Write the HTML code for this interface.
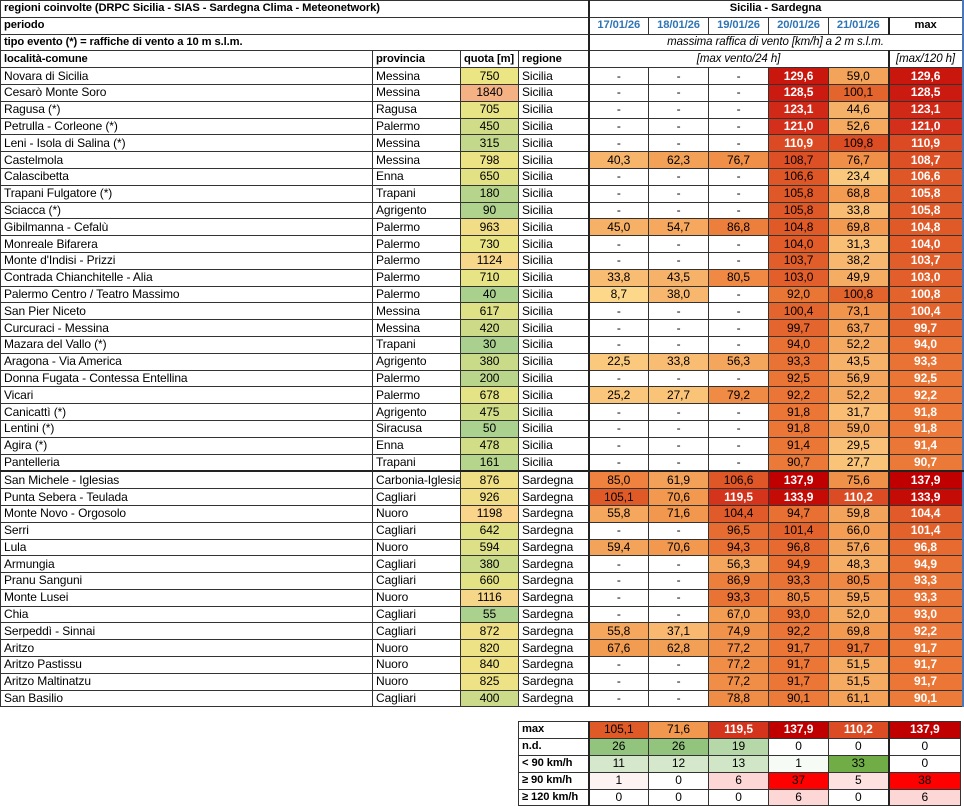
<!DOCTYPE html>
<html><head><meta charset="utf-8">
<style>
body{margin:0;background:#fff;width:964px;height:806px;overflow:hidden;position:relative;font-family:"Liberation Sans",sans-serif;font-size:12px;color:#000}
table{border-collapse:collapse;table-layout:fixed;position:absolute}
td{border:1px solid #333;padding:0 3px;height:15.8px;white-space:nowrap;overflow:hidden;line-height:15px;vertical-align:middle;letter-spacing:-0.1px}
#t{left:0;top:0;width:962px}
#t tr.d td:nth-child(n+5){text-align:center}
#t tr.d td:nth-child(3){text-align:center}
#t tr.d td:nth-child(5),#t .tl{border-left:2px solid #222}
#t tr.d td:nth-child(10),#t .ml{border-left:2px solid #222}
#t tr.d td:nth-child(10){color:#fff;font-weight:bold}
#t td:last-child{border-right:2px solid #4a78b8}
.b{font-weight:bold;font-size:11.2px}.i{font-style:italic;text-align:center;font-size:11.5px}
.dt{color:#2f75b5;font-weight:bold;text-align:center;font-size:11.2px}
tr.sep td{border-bottom:2px solid #222}
#s{left:518px;top:721px;width:442px}
#s td{text-align:center;height:15.9px}
#s td:first-child{text-align:left;font-weight:bold;font-size:11.2px}
#s td:nth-child(2){border-left:2px solid #222}
#s td:nth-child(7){border-left:2px solid #222}
</style></head><body>
<table id="t">
<colgroup><col style="width:372px"><col style="width:88px"><col style="width:58px"><col style="width:70px"><col style="width:60px"><col style="width:60px"><col style="width:60px"><col style="width:60px"><col style="width:60px"><col style="width:74px"></colgroup>
<tr><td colspan="4" class="b">regioni coinvolte (DRPC Sicilia - SIAS - Sardegna Clima - Meteonetwork)</td><td colspan="6" class="b tl" style="text-align:center">Sicilia - Sardegna</td></tr>
<tr><td colspan="4" class="b">periodo</td><td class="dt tl">17/01/26</td><td class="dt">18/01/26</td><td class="dt">19/01/26</td><td class="dt">20/01/26</td><td class="dt">21/01/26</td><td class="b ml" style="text-align:center">max</td></tr>
<tr><td colspan="4" class="b">tipo evento (*) = raffiche di vento a 10 m s.l.m.</td><td colspan="6" class="i tl">massima raffica di vento [km/h] a 2 m s.l.m.</td></tr>
<tr><td class="b">località-comune</td><td class="b">provincia</td><td class="b">quota [m]</td><td class="b">regione</td><td colspan="5" class="i tl">[max vento/24 h]</td><td class="i ml">[max/120 h]</td></tr>
<tr class="d"><td>Novara di Sicilia</td><td>Messina</td><td>750</td><td>Sicilia</td><td>-</td><td>-</td><td>-</td><td>129,6</td><td>59,0</td><td>129,6</td></tr>
<tr class="d"><td>Cesarò Monte Soro</td><td>Messina</td><td>1840</td><td>Sicilia</td><td>-</td><td>-</td><td>-</td><td>128,5</td><td>100,1</td><td>128,5</td></tr>
<tr class="d"><td>Ragusa (*)</td><td>Ragusa</td><td>705</td><td>Sicilia</td><td>-</td><td>-</td><td>-</td><td>123,1</td><td>44,6</td><td>123,1</td></tr>
<tr class="d"><td>Petrulla - Corleone (*)</td><td>Palermo</td><td>450</td><td>Sicilia</td><td>-</td><td>-</td><td>-</td><td>121,0</td><td>52,6</td><td>121,0</td></tr>
<tr class="d"><td>Leni - Isola di Salina (*)</td><td>Messina</td><td>315</td><td>Sicilia</td><td>-</td><td>-</td><td>-</td><td>110,9</td><td>109,8</td><td>110,9</td></tr>
<tr class="d"><td>Castelmola</td><td>Messina</td><td>798</td><td>Sicilia</td><td>40,3</td><td>62,3</td><td>76,7</td><td>108,7</td><td>76,7</td><td>108,7</td></tr>
<tr class="d"><td>Calascibetta</td><td>Enna</td><td>650</td><td>Sicilia</td><td>-</td><td>-</td><td>-</td><td>106,6</td><td>23,4</td><td>106,6</td></tr>
<tr class="d"><td>Trapani Fulgatore (*)</td><td>Trapani</td><td>180</td><td>Sicilia</td><td>-</td><td>-</td><td>-</td><td>105,8</td><td>68,8</td><td>105,8</td></tr>
<tr class="d"><td>Sciacca (*)</td><td>Agrigento</td><td>90</td><td>Sicilia</td><td>-</td><td>-</td><td>-</td><td>105,8</td><td>33,8</td><td>105,8</td></tr>
<tr class="d"><td>Gibilmanna - Cefalù</td><td>Palermo</td><td>963</td><td>Sicilia</td><td>45,0</td><td>54,7</td><td>86,8</td><td>104,8</td><td>69,8</td><td>104,8</td></tr>
<tr class="d"><td>Monreale Bifarera</td><td>Palermo</td><td>730</td><td>Sicilia</td><td>-</td><td>-</td><td>-</td><td>104,0</td><td>31,3</td><td>104,0</td></tr>
<tr class="d"><td>Monte d'Indisi - Prizzi</td><td>Palermo</td><td>1124</td><td>Sicilia</td><td>-</td><td>-</td><td>-</td><td>103,7</td><td>38,2</td><td>103,7</td></tr>
<tr class="d"><td>Contrada Chianchitelle - Alia</td><td>Palermo</td><td>710</td><td>Sicilia</td><td>33,8</td><td>43,5</td><td>80,5</td><td>103,0</td><td>49,9</td><td>103,0</td></tr>
<tr class="d"><td>Palermo Centro / Teatro Massimo</td><td>Palermo</td><td>40</td><td>Sicilia</td><td>8,7</td><td>38,0</td><td>-</td><td>92,0</td><td>100,8</td><td>100,8</td></tr>
<tr class="d"><td>San Pier Niceto</td><td>Messina</td><td>617</td><td>Sicilia</td><td>-</td><td>-</td><td>-</td><td>100,4</td><td>73,1</td><td>100,4</td></tr>
<tr class="d"><td>Curcuraci - Messina</td><td>Messina</td><td>420</td><td>Sicilia</td><td>-</td><td>-</td><td>-</td><td>99,7</td><td>63,7</td><td>99,7</td></tr>
<tr class="d"><td>Mazara del Vallo (*)</td><td>Trapani</td><td>30</td><td>Sicilia</td><td>-</td><td>-</td><td>-</td><td>94,0</td><td>52,2</td><td>94,0</td></tr>
<tr class="d"><td>Aragona - Via America</td><td>Agrigento</td><td>380</td><td>Sicilia</td><td>22,5</td><td>33,8</td><td>56,3</td><td>93,3</td><td>43,5</td><td>93,3</td></tr>
<tr class="d"><td>Donna Fugata - Contessa Entellina</td><td>Palermo</td><td>200</td><td>Sicilia</td><td>-</td><td>-</td><td>-</td><td>92,5</td><td>56,9</td><td>92,5</td></tr>
<tr class="d"><td>Vicari</td><td>Palermo</td><td>678</td><td>Sicilia</td><td>25,2</td><td>27,7</td><td>79,2</td><td>92,2</td><td>52,2</td><td>92,2</td></tr>
<tr class="d"><td>Canicattì (*)</td><td>Agrigento</td><td>475</td><td>Sicilia</td><td>-</td><td>-</td><td>-</td><td>91,8</td><td>31,7</td><td>91,8</td></tr>
<tr class="d"><td>Lentini (*)</td><td>Siracusa</td><td>50</td><td>Sicilia</td><td>-</td><td>-</td><td>-</td><td>91,8</td><td>59,0</td><td>91,8</td></tr>
<tr class="d"><td>Agira (*)</td><td>Enna</td><td>478</td><td>Sicilia</td><td>-</td><td>-</td><td>-</td><td>91,4</td><td>29,5</td><td>91,4</td></tr>
<tr class="d sep"><td>Pantelleria</td><td>Trapani</td><td>161</td><td>Sicilia</td><td>-</td><td>-</td><td>-</td><td>90,7</td><td>27,7</td><td>90,7</td></tr>
<tr class="d"><td>San Michele - Iglesias</td><td>Carbonia-Iglesias</td><td>876</td><td>Sardegna</td><td>85,0</td><td>61,9</td><td>106,6</td><td>137,9</td><td>75,6</td><td>137,9</td></tr>
<tr class="d"><td>Punta Sebera - Teulada</td><td>Cagliari</td><td>926</td><td>Sardegna</td><td>105,1</td><td>70,6</td><td>119,5</td><td>133,9</td><td>110,2</td><td>133,9</td></tr>
<tr class="d"><td>Monte Novo - Orgosolo</td><td>Nuoro</td><td>1198</td><td>Sardegna</td><td>55,8</td><td>71,6</td><td>104,4</td><td>94,7</td><td>59,8</td><td>104,4</td></tr>
<tr class="d"><td>Serri</td><td>Cagliari</td><td>642</td><td>Sardegna</td><td>-</td><td>-</td><td>96,5</td><td>101,4</td><td>66,0</td><td>101,4</td></tr>
<tr class="d"><td>Lula</td><td>Nuoro</td><td>594</td><td>Sardegna</td><td>59,4</td><td>70,6</td><td>94,3</td><td>96,8</td><td>57,6</td><td>96,8</td></tr>
<tr class="d"><td>Armungia</td><td>Cagliari</td><td>380</td><td>Sardegna</td><td>-</td><td>-</td><td>56,3</td><td>94,9</td><td>48,3</td><td>94,9</td></tr>
<tr class="d"><td>Pranu Sanguni</td><td>Cagliari</td><td>660</td><td>Sardegna</td><td>-</td><td>-</td><td>86,9</td><td>93,3</td><td>80,5</td><td>93,3</td></tr>
<tr class="d"><td>Monte Lusei</td><td>Nuoro</td><td>1116</td><td>Sardegna</td><td>-</td><td>-</td><td>93,3</td><td>80,5</td><td>59,5</td><td>93,3</td></tr>
<tr class="d"><td>Chia</td><td>Cagliari</td><td>55</td><td>Sardegna</td><td>-</td><td>-</td><td>67,0</td><td>93,0</td><td>52,0</td><td>93,0</td></tr>
<tr class="d"><td>Serpeddì - Sinnai</td><td>Cagliari</td><td>872</td><td>Sardegna</td><td>55,8</td><td>37,1</td><td>74,9</td><td>92,2</td><td>69,8</td><td>92,2</td></tr>
<tr class="d"><td>Aritzo</td><td>Nuoro</td><td>820</td><td>Sardegna</td><td>67,6</td><td>62,8</td><td>77,2</td><td>91,7</td><td>91,7</td><td>91,7</td></tr>
<tr class="d"><td>Aritzo Pastissu</td><td>Nuoro</td><td>840</td><td>Sardegna</td><td>-</td><td>-</td><td>77,2</td><td>91,7</td><td>51,5</td><td>91,7</td></tr>
<tr class="d"><td>Aritzo Maltinatzu</td><td>Nuoro</td><td>825</td><td>Sardegna</td><td>-</td><td>-</td><td>77,2</td><td>91,7</td><td>51,5</td><td>91,7</td></tr>
<tr class="d"><td>San Basilio</td><td>Cagliari</td><td>400</td><td>Sardegna</td><td>-</td><td>-</td><td>78,8</td><td>90,1</td><td>61,1</td><td>90,1</td></tr>
</table>

<table id="s">
<colgroup><col style="width:70px"><col style="width:60px"><col style="width:60px"><col style="width:60px"><col style="width:60px"><col style="width:60px"><col style="width:72px"></colgroup>
<tr id="smax"><td>max</td><td>105,1</td><td>71,6</td><td>119,5</td><td>137,9</td><td>110,2</td><td>137,9</td></tr>
<tr><td>n.d.</td><td style="background:#93c47d">26</td><td style="background:#93c47d">26</td><td style="background:#b6d7a8">19</td><td>0</td><td>0</td><td>0</td></tr>
<tr><td>&lt; 90 km/h</td><td style="background:#d5e8cb">11</td><td style="background:#d5e8cb">12</td><td style="background:#d1e6c6">13</td><td style="background:#f7fbf5">1</td><td style="background:#70ad47">33</td><td>0</td></tr>
<tr><td>≥ 90 km/h</td><td style="background:#fdf3f3">1</td><td>0</td><td style="background:#fdd6d6">6</td><td style="background:#ff0000">37</td><td style="background:#fde0e0">5</td><td style="background:#ff0000">38</td></tr>
<tr><td>≥ 120 km/h</td><td>0</td><td>0</td><td>0</td><td style="background:#fdd6d6">6</td><td>0</td><td style="background:#fdd6d6">6</td></tr>
</table>

<script>
function hx(h){return [parseInt(h.substr(1,2),16),parseInt(h.substr(3,2),16),parseInt(h.substr(5,2),16)];}
function scale(v,st){
  if(v<=st[0][0])return st[0][1];
  for(var i=1;i<st.length;i++){if(v<=st[i][0]){var a=st[i-1],b=st[i],t=(v-a[0])/(b[0]-a[0]);var c1=hx(a[1]),c2=hx(b[1]);
   return 'rgb('+c1.map(function(x,k){return Math.round(x+(c2[k]-x)*t)}).join(',')+')';}}
  return st[st.length-1][1];
}
var W=[[8,'#fdd98c'],[40,'#f7b56c'],[70,'#f29a50'],[90,'#ec7a38'],[105,'#e05a28'],[120,'#d4321c'],[138,'#c00000']];
var Q=[[30,'#a9d08e'],[750,'#ebe584'],[1200,'#f9d48a'],[1840,'#f4b183']];
document.querySelectorAll('#t tr.d').forEach(function(tr){
  var c=tr.children;
  c[2].style.background=scale(parseFloat(c[2].textContent),Q);
  for(var i=4;i<10;i++){var s=c[i].textContent.trim();if(s==='-')continue;var v=parseFloat(s.replace(',','.'));
    c[i].style.background=scale(v,W); if(v>=110&&i<9){c[i].style.color='#fff';c[i].style.fontWeight='bold';}}
});
var sm=document.querySelectorAll('#smax td');
for(var i=1;i<sm.length;i++){var v=parseFloat(sm[i].textContent.replace(',','.'));sm[i].style.background=scale(v,W);if(v>=110){sm[i].style.color='#fff';sm[i].style.fontWeight='bold';}}
</script>
</body></html>
